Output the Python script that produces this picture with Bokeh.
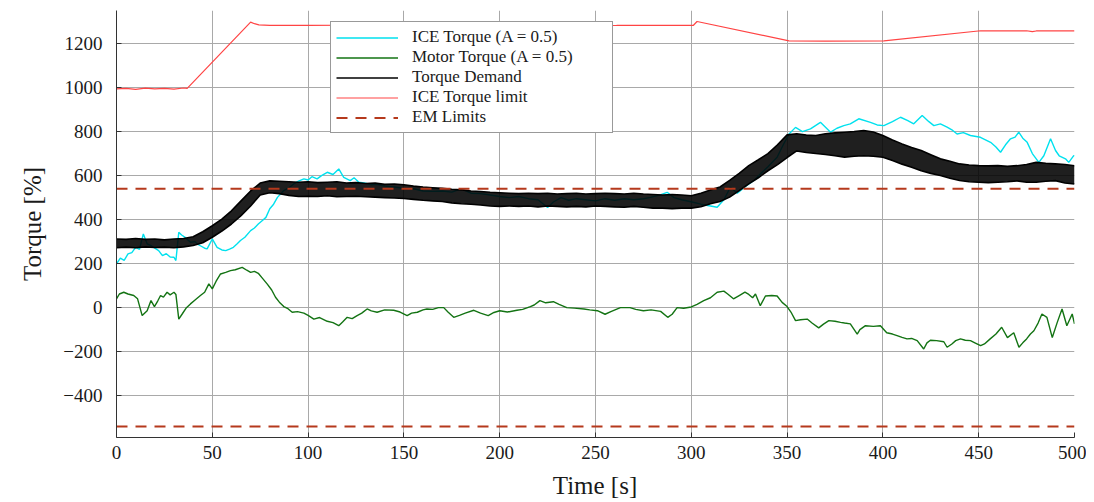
from bokeh.plotting import figure
from bokeh.models import Legend, LegendItem, FixedTicker, Div
from bokeh.layouts import column
from bokeh.embed import file_html
from bokeh.resources import INLINE

# ---------------- data ----------------
x_ticks = [0, 50, 100, 150, 200, 250, 300, 350, 400, 450, 500]
y_ticks = [-400, -200, 0, 200, 400, 600, 800, 1000, 1200]

# ICE torque (A = 0.5)
ice_t = [0, 2, 4, 6, 8, 10, 12, 14, 16, 18, 20, 22, 24, 26, 28, 30, 31, 32.5, 34, 36, 38.6, 41, 42, 44, 46, 47.3,
         50, 52.5, 55, 57, 59, 61, 63, 64.7, 67, 70, 72, 74, 76, 78, 80, 82, 84, 86, 87.3, 90, 92.5, 95, 97.8,
         100, 102, 104.7, 107, 110, 113, 116, 118.6, 122, 124, 126.5, 130, 133, 136, 140, 145, 150, 155, 160,
         165, 170, 175, 180, 185, 190, 195, 200, 205, 210, 215, 220, 225, 228, 232, 236, 240, 245, 250, 255,
         260, 265, 270, 275, 278.7, 283, 287.4, 291, 295, 300.4, 305, 310, 313.5, 317, 320.4, 324, 329, 333,
         336, 340, 344.8, 348, 351, 354.4, 358, 362.2, 367.4, 372.7, 376, 379.6, 383, 387.4, 393.5, 397, 400.5,
         405, 409.2, 413, 416.1, 420.5, 424, 426.6, 430, 433.5, 436, 438.7, 442, 445.7, 450.9, 453, 456.2, 459,
         461.4, 464, 466.6, 469, 470.9, 473, 475.3, 478, 481.4, 484, 487.5, 490.1, 492, 495.3, 497, 499.6, 500]
ice_v = [199, 225, 215, 244, 250, 274, 265, 335, 290, 282, 270, 259, 236, 245, 230, 229, 214, 342, 330, 318, 297,
         300, 290, 280, 270, 267, 312, 274, 262, 259, 266, 274, 290, 305, 320, 350, 362, 380, 395, 410, 449, 470,
         501, 520, 532, 545, 562, 575, 585, 580, 595, 585, 600, 615, 605, 630, 592, 577, 590, 570, 565, 558, 560,
         552, 548, 542, 540, 530, 528, 530, 525, 540, 520, 518, 512, 505, 500, 505, 495, 490, 455, 480, 500, 488,
         495, 490, 485, 495, 488, 495, 490, 495, 501, 510, 524, 500, 490, 480, 470, 462, 456, 490, 547, 520, 555,
         580, 607, 640, 683, 740, 789, 819, 800, 812, 842, 797, 815, 827, 835, 858, 842, 830, 827, 845, 865, 850,
         835, 873, 845, 827, 835, 820, 808, 789, 795, 782, 774, 765, 751, 730, 706, 740, 767, 775, 797, 770, 751,
         700, 660, 690, 767, 714, 690, 676, 660, 691, 690]

# Motor torque (A = 0.5)
mot_t = [0, 1.5, 3.8, 6, 9, 11, 13.4, 16, 18, 19.8, 21.5, 23, 24.5, 26.4, 28, 30, 31, 32.5, 34.2, 36.5, 38.6, 41,
         43.8, 46, 48.2, 50, 52, 54.3, 57, 59.5, 62, 65.6, 68, 70, 72, 74, 76, 78.6, 81, 83, 85, 87.3, 89.5, 91.7,
         94.5, 97.8, 100, 103, 106, 110, 113, 116, 118, 120.4, 123, 125.6, 128, 130.8, 133, 136, 140, 144.7, 148,
         151.7, 154, 157, 160, 162, 165, 168, 170.8, 173, 176, 179, 182, 186.5, 190, 194, 197, 200, 204, 209, 212,
         216, 218, 221, 224, 228, 231, 235, 239, 244, 247, 251, 255, 258, 263, 268, 271, 275, 279, 284, 287.7, 290,
         292.6, 296, 300, 303, 306.5, 310, 313.5, 317, 319, 322, 325, 328, 330, 332, 333.5, 336, 338.7, 342, 344.8,
         347.4, 350, 352, 354.4, 357, 360.5, 363, 366.5, 369, 371.8, 375, 377.9, 380, 383, 386.6, 388, 390.9, 395,
         398.7, 402, 405, 407.4, 410, 412.6, 415, 417.9, 421.3, 423, 424.8, 428, 431.8, 433.5, 436, 438, 440.5, 443,
         445.7, 448, 451, 453, 456, 459, 462, 465, 468.3, 471, 473, 475, 477, 478.8, 481, 483, 485.6, 488.4, 491,
         493.5, 496, 498.8, 500]
mot_v = [40, 62, 70, 62, 55, 40, -36, -14, 32, 5, 30, 55, 48, 70, 58, 70, 60, -52, -30, 0, 17, 35, 55, 70, 108, 85,
         120, 153, 160, 168, 172, 183, 170, 160, 165, 156, 135, 108, 80, 47, 25, 5, -5, -21, -18, -25, -35, -52, -45,
         -62, -68, -82, -65, -44, -50, -36, -25, -6, -15, -21, -10, -12, -20, -36, -25, -21, -10, -6, -8, 0, 0, -20,
         -44, -35, -25, -12, -25, -36, -22, -14, -20, -12, -8, 5, 12, 32, 22, 27, 15, 0, -2, -6, -10, -14, -30, -18,
         0, 0, -8, -14, -10, -17, -44, -30, 0, -3, 3, 15, 32, 45, 70, 75, 62, 40, 55, 70, 60, 45, 62, 9, 53, 55, 53,
         24, 5, -20, -59, -55, -52, -70, -92, -75, -59, -62, -67, -70, -74, -120, -100, -82, -85, -82, -114, -120,
         -127, -135, -142, -140, -150, -188, -160, -148, -150, -155, -180, -165, -150, -142, -148, -150, -160, -173,
         -165, -142, -120, -89, -136, -114, -180, -160, -142, -120, -105, -70, -29, -44, -136, -67, -6, -82, -29, -74]

# Torque demand: upper and lower edge of the noisy band, every 5 s
dem_t = [0, 5, 10, 15, 20, 25, 30, 35, 40, 45, 50, 55, 60, 65, 70, 75, 80, 85, 90, 95, 100, 105, 110, 115, 120,
         125, 130, 135, 140, 145, 150, 155, 160, 165, 170, 175, 180, 185, 190, 195, 200, 205, 210, 215, 220, 225,
         230, 235, 240, 245, 250, 255, 260, 265, 270, 275, 280, 285, 290, 295, 300, 305, 310, 315, 320, 325, 330,
         335, 340, 345, 350, 355, 360, 365, 370, 375, 380, 385, 390, 395, 400, 405, 410, 415, 420, 425, 430, 435,
         440, 445, 450, 455, 460, 465, 470, 475, 480, 485, 490, 495, 500]
dem_hi = [312, 310, 314, 310, 312, 308, 312, 314, 322, 345, 372, 402, 440, 485, 530, 566, 576, 574, 572, 570, 572,
          568, 570, 572, 566, 568, 564, 566, 560, 562, 558, 552, 548, 545, 542, 538, 535, 530, 528, 524, 522, 520,
          518, 520, 518, 520, 516, 518, 520, 516, 518, 520, 518, 516, 520, 516, 514, 512, 514, 512, 508, 520, 535,
          548, 578, 610, 645, 672, 700, 740, 785, 790, 784, 782, 790, 794, 797, 800, 805, 798, 782, 762, 744, 728,
          714, 695, 676, 665, 653, 648, 645, 644, 645, 642, 645, 650, 660, 656, 653, 650, 645]
dem_lo = [272, 275, 272, 276, 273, 275, 272, 276, 282, 295, 320, 348, 380, 418, 462, 512, 522, 518, 510, 505, 506,
          505, 508, 504, 505, 506, 504, 502, 500, 498, 496, 492, 488, 485, 482, 476, 472, 470, 466, 462, 460, 462,
          460, 462, 458, 462, 460, 458, 460, 458, 462, 460, 458, 456, 460, 456, 452, 452, 450, 452, 452, 458, 472,
          482, 502, 532, 562, 590, 622, 650, 682, 712, 705, 700, 696, 690, 684, 688, 690, 688, 683, 668, 652, 638,
          622, 610, 600, 588, 578, 572, 570, 568, 570, 572, 576, 570, 570, 574, 577, 566, 562]

# ICE torque limit
lim_t = [0, 5, 10, 15, 20, 25, 30, 35, 36.9, 70, 72, 74.3, 80, 100, 120, 150, 165, 180, 192, 197, 220, 261, 280,
         301, 303, 351, 370, 400.5, 451, 460, 475, 478, 480, 500]
lim_v = [994, 996, 992, 997, 994, 996, 993, 998, 996, 1297, 1290, 1285, 1282, 1282, 1283, 1285, 1292, 1294, 1292,
         1284, 1281, 1282, 1283, 1282, 1300, 1212, 1211, 1212, 1258, 1257, 1258, 1254, 1257, 1257]

# EM limits
em_t = [0, 500]
em_limit = 540

# ---------------- figure ----------------
FONT = "Liberation Serif"
p = figure(width=1086, height=472, x_range=(0, 500), y_range=(-590, 1350),
           output_backend="svg", toolbar_location=None,
           min_border_left=116, min_border_top=10, min_border_right=12, min_border_bottom=35)
p.outline_line_color = None
p.background_fill_color = "white"
p.border_fill_color = "white"

for g in (p.xgrid, p.ygrid):
    g.grid_line_color = "#a9a9a9"
    g.grid_line_width = 1
p.xaxis.ticker = FixedTicker(ticks=x_ticks)
p.yaxis.ticker = FixedTicker(ticks=y_ticks)
p.yaxis.major_label_overrides = {v: ("\u2212" + str(-v) if v < 0 else str(v)) for v in y_ticks}
for ax in (p.xaxis[0], p.yaxis[0]):
    ax.major_tick_in = 5
    ax.major_tick_out = 0
    ax.minor_tick_line_color = None
    ax.axis_line_color = "#333333"
    ax.major_tick_line_color = "#333333"
    ax.major_label_text_font = FONT
    ax.major_label_text_font_size = "19px"
    ax.major_label_text_color = "#1a1a1a"
    ax.axis_label_text_font = FONT
    ax.axis_label_text_font_size = "25px"
    ax.axis_label_text_font_style = "normal"
    ax.axis_label_text_color = "#1a1a1a"
p.yaxis.axis_label = "Torque [%]"
p.xaxis.major_label_standoff = 8
p.yaxis.major_label_standoff = 14
p.yaxis.axis_label_standoff = 14

r_ice = p.line(ice_t, ice_v, line_color="#00e1ee", line_width=1.4)
r_mot = p.line(mot_t, mot_v, line_color="#137313", line_width=1.4)
p.varea(x=dem_t, y1=dem_lo, y2=dem_hi, fill_color="black", fill_alpha=0.88)
r_dem = p.line(dem_t, dem_hi, line_color="black", line_width=1.6)
p.line(dem_t, dem_lo, line_color="black", line_width=1.6)
r_lim = p.line(lim_t, lim_v, line_color="#ff4444", line_width=1.2)
r_em = p.line(em_t, [em_limit, em_limit], line_color="#b5391c", line_width=2, line_dash="11 8")
p.line(em_t, [-em_limit, -em_limit], line_color="#b5391c", line_width=2, line_dash="11 8")

legend = Legend(items=[
    LegendItem(label="ICE Torque (A = 0.5)", renderers=[r_ice]),
    LegendItem(label="Motor Torque (A = 0.5)", renderers=[r_mot]),
    LegendItem(label="Torque Demand", renderers=[r_dem]),
    LegendItem(label="ICE Torque limit", renderers=[r_lim]),
    LegendItem(label="EM Limits", renderers=[r_em]),
], location=(214, 304))
legend.border_line_color = "#333333"
legend.border_line_width = 1
legend.background_fill_color = "white"
legend.background_fill_alpha = 1
legend.label_text_font = FONT
legend.label_text_font_size = "17px"
legend.label_text_color = "#1a1a1a"
legend.glyph_width = 62
legend.glyph_height = 17
legend.label_height = 17
legend.label_width = 195
legend.spacing = 0
legend.padding = 5
legend.margin = 0
legend.label_standoff = 14
p.add_layout(legend)

# x-axis title, centred under the plot frame
xlabel = Div(text="Time [s]", width=958, height=28, margin=(0, 0, 0, 116),
             styles={"font-family": FONT, "font-size": "25px", "line-height": "28px",
                     "text-align": "center", "color": "#1a1a1a", "width": "958px"})

layout = column(p, xlabel, spacing=0)
open("out.html", "w").write(file_html(layout, INLINE))
